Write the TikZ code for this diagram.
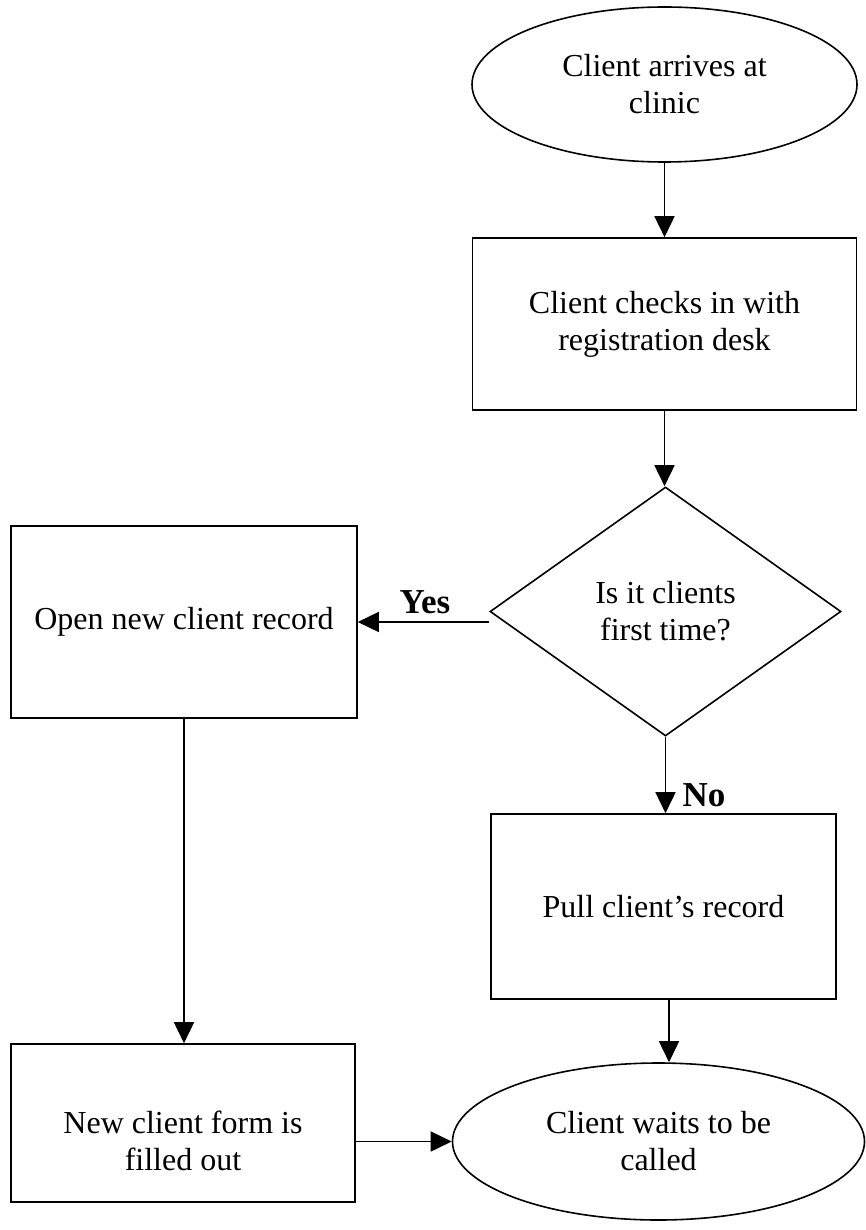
\documentclass[tikz,border=0pt]{standalone}
\usepackage{fontspec}
\setmainfont{Liberation Serif}
\usetikzlibrary{shapes.geometric,arrows.meta,calc}
\begin{document}
\begin{tikzpicture}[x=1pt,y=-1pt,
  every node/.style={font=\fontsize{32}{37}\selectfont, align=center, inner sep=0pt},
  outline/.style={draw, line width=1.6pt},
  stepbox/.style={outline, rectangle, minimum width=#1},
  terminal/.style={outline, ellipse},
  choice/.style={outline, diamond, aspect=1.41, minimum width=351pt, minimum height=249pt},
  tag/.style={font=\fontsize{35}{40}\selectfont\bfseries},
  arr/.style={line width=1.6pt, -{Triangle[length=21pt,width=20pt]}}]
  % page frame
  \fill[white] (0,0) rectangle (866,1230);
  \useasboundingbox (0,0) rectangle (866,1230);

  % nodes
  \node[terminal, minimum width=385pt, minimum height=155pt] (start) at (664.5,84.5)
    {Client arrives at\\clinic};
  \node[stepbox=384pt, minimum height=172pt] (checkin) at (664.5,324)
    {Client checks in with\\registration desk};
  \node[choice] (decide) at (665.5,611.5) {Is it clients\\first time?};
  \node[stepbox=346pt, minimum height=192pt] (open) at (184,622)
    {Open new client record};
  \node[stepbox=345pt, minimum height=185pt] (pull) at (663.5,906.5)
    {Pull client’s record};
  \node[stepbox=344pt, minimum height=158pt] (form) at (183,1123) {};
  \node (formtext) at (183,1141) {New client form is\\filled out};
  \node[terminal, minimum width=412pt, minimum height=157pt] (wait) at (658.5,1141.5)
    {Client waits to be\\called};

  % branch labels
  \node[tag] (yes) at (425,602) {Yes};
  \node[tag] (no) at (704,795) {No};

  % connectors
  \draw[arr] (start.south) -- (start.south |- checkin.north);
  \draw[arr] (checkin.south) -- (checkin.south |- decide.north);
  \draw[arr] (decide.west |- open.east) -- (open.east);
  \draw[arr] (decide.south) -- (decide.south |- pull.north);
  \draw[arr] (open.south) -- (open.south |- form.north);
  \draw[arr] ([xshift=5.5pt]pull.south) -- ([xshift=5.5pt]pull.south |- wait.north);
  \draw[arr] (form.east |- wait.west) -- (wait.west);
\end{tikzpicture}
\end{document}
